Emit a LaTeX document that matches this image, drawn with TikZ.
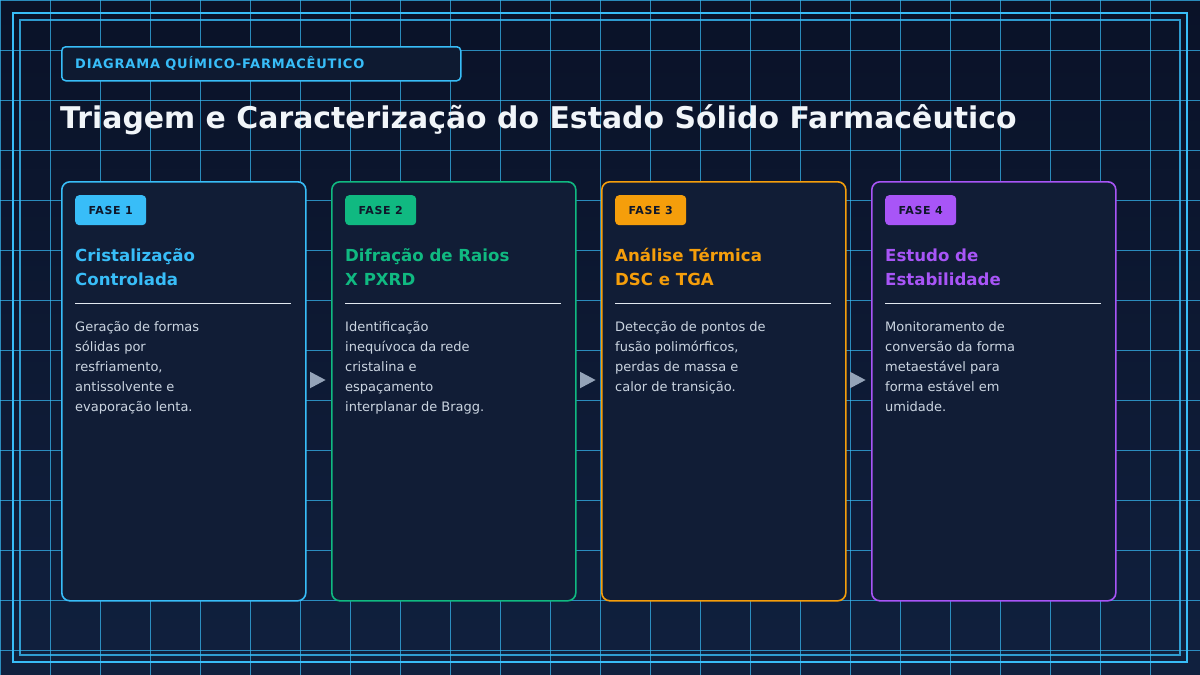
\documentclass[tikz,border=0pt]{standalone}
\usepackage{fontspec}
\setmainfont{DejaVu Sans}
\newfontfamily\hdrfont[LetterSpace=6]{DejaVu Sans}
\usetikzlibrary{shapes.geometric}
\definecolor{bgtop}{HTML}{0A1228}
\definecolor{bgbot}{HTML}{10203E}
\definecolor{gridc}{HTML}{38BDF8}
\definecolor{cardfill}{HTML}{111D36}
\definecolor{hdrfill}{HTML}{0E1A31}
\definecolor{cSky}{HTML}{38BDF8}
\definecolor{cEme}{HTML}{10B981}
\definecolor{cAmb}{HTML}{F59E0B}
\definecolor{cPur}{HTML}{A855F7}
\definecolor{bodyc}{HTML}{CBD5E1}
\definecolor{sepc}{HTML}{E2E8F0}
\definecolor{darktxt}{HTML}{0F172A}
\definecolor{arrc}{HTML}{94A3B8}
\definecolor{titlec}{HTML}{F1F5F9}
\tikzset{
  card/.style={draw=#1, fill=cardfill, line width=1.6pt, rounded corners=8pt, minimum width=244pt, minimum height=419pt, anchor=north west, inner sep=0pt},
  badge/.style={fill=#1, rounded corners=4pt, minimum width=71pt, minimum height=30pt, anchor=north west, inner sep=0pt, text=darktxt, font=\fontsize{11}{13}\selectfont\hdrfont\bfseries},
  ctitle/.style={text=#1, anchor=base west, inner sep=0pt, align=left, font=\fontsize{16.6}{24}\selectfont\bfseries},
  cbody/.style={text=bodyc, anchor=base west, inner sep=0pt, align=left, font=\fontsize{13}{20}\selectfont},
  sepline/.style={draw=sepc, line width=1pt},
  arrowtri/.style={isosceles triangle, isosceles triangle apex angle=56, fill=arrc, minimum width=16.5pt, minimum height=15pt, inner sep=0pt, anchor=center, shape border rotate=0},
  gridline/.style={draw=gridc, draw opacity=0.7, line width=1pt}
}
\begin{document}
\begin{tikzpicture}[x=1pt,y=-1pt]
\useasboundingbox (0,0) rectangle (1200,675);
\shade[top color=bgtop, bottom color=bgbot] (0,0) rectangle (1200,675);
% grid
\foreach \gx in {0,50,...,1200} \draw[gridline] (\gx,0) -- (\gx,675);
\foreach \gy in {0,50,...,650} \draw[gridline] (0,\gy) -- (1200,\gy);
% frames
\draw[draw=gridc, line width=2.5pt] (13,13) rectangle (1187,662);
\draw[draw=gridc, draw opacity=0.8, line width=1.2pt] (20,20) rectangle (1180,655);
% header
\node[draw=gridc, fill=hdrfill, line width=1.5pt, rounded corners=4pt, minimum width=399pt, minimum height=34pt, anchor=north west, inner sep=0pt] (hdr) at (61,46) {};
\node[anchor=base west, inner sep=0pt, text=cSky, font=\fontsize{13}{15}\selectfont\hdrfont\bfseries] (hdrtxt) at (75,68) {DIAGRAMA QUÍMICO-FARMACÊUTICO};
\node[anchor=base west, inner sep=0pt, text=titlec, font=\fontsize{29.9}{36}\selectfont\bfseries] (title) at (60,128) {Triagem e Caracterização do Estado Sólido Farmacêutico};
% cards
\foreach \i/\col/\lab/\tA/\tB/\nl/\body in {
 0/cSky/FASE 1/Cristalização/Controlada/5/{Geração de formas\\sólidas por\\resfriamento,\\antissolvente e\\evaporação lenta.},
 1/cEme/FASE 2/Difração de Raios/X PXRD/5/{Identificação\\inequívoca da rede\\cristalina e\\espaçamento\\interplanar de Bragg.},
 2/cAmb/FASE 3/Análise Térmica/DSC e TGA/4/{Detecção de pontos de\\fusão polimórficos,\\perdas de massa e\\calor de transição.},
 3/cPur/FASE 4/Estudo de/Estabilidade/5/{Monitoramento de\\conversão da forma\\metaestável para\\forma estável em\\umidade.}}
{
  \pgfmathsetmacro{\xo}{61+270*\i}
  \pgfmathsetmacro{\yb}{331+20*(\nl-1)}
  \node[card=\col] (card\i) at (\xo,181) {};
  \node[badge=\col] (badge\i) at (\xo+14,195) {\lab};
  \node[ctitle=\col] (title\i) at (\xo+14,285) {\tA\\\tB};
  \draw[sepline] (\xo+14,303) -- (\xo+230,303);
  \node[cbody] (body\i) at (\xo+14,\yb) {\body};
}
% arrows
\foreach \i in {0,1,2} {
  \pgfmathsetmacro{\ax}{315+270*\i}
  \node[arrowtri] (arr\i) at (\ax,380) {};
}
\end{tikzpicture}
\end{document}
